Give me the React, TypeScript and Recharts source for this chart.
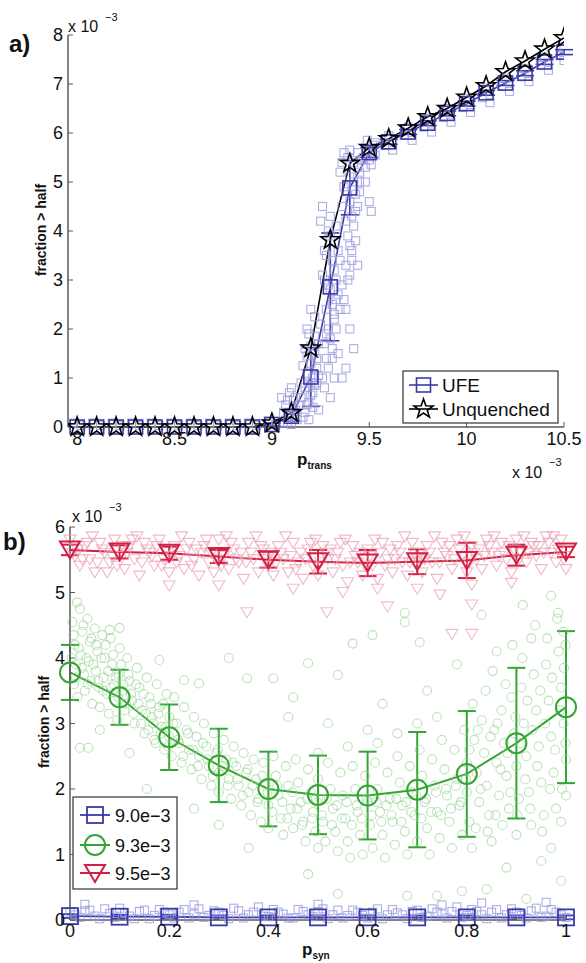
import React from 'react';
import { ComposedChart, Line, Scatter, XAxis, YAxis, ErrorBar } from 'recharts';

const FONT = '"Liberation Sans", Arial, Helvetica, sans-serif';
const AXIS = '#5a5a5a';

// ---------- panel a: fraction > half vs p_trans (x 10^-3) ----------
const pTrans = [8.0, 8.1, 8.2, 8.3, 8.4, 8.5, 8.6, 8.7, 8.8, 8.9, 9.0, 9.1, 9.2, 9.3, 9.4, 9.5, 9.6, 9.7, 9.8, 9.9, 10.0, 10.1, 10.2, 10.3, 10.4, 10.5];
const ufeMean = [0, 0, 0, 0, 0, 0, 0, 0, 0, 0, 0.05, 0.22, 1.02, 2.86, 4.88, 5.6, 5.82, 6.02, 6.2, 6.4, 6.6, 6.82, 7.02, 7.22, 7.45, 7.65];
const ufeErr = [0, 0, 0, 0, 0, 0, 0, 0, 0, 0, 0.03, 0.1, 0.6, 1.1, 0.55, 0.1, 0.05, 0.05, 0.05, 0.05, 0.05, 0.05, 0.05, 0.05, 0.05, 0.05];
const unquenched = [0, 0, 0, 0, 0, 0, 0, 0, 0, 0, 0.08, 0.29, 1.61, 3.82, 5.38, 5.7, 5.88, 6.1, 6.33, 6.5, 6.73, 6.96, 7.25, 7.47, 7.71, 7.94];
const ufeRuns: [number, number][] = [
  [7.98, 0.08], [8.02, 0.03], [8.08, 0.08], [8.12, 0.03], [8.18, 0.08], [8.22, 0.03], [8.28, 0.08], [8.32, 0.03],
  [8.38, 0.08], [8.42, 0.03], [8.48, 0.08], [8.52, 0.03], [8.58, 0.08], [8.62, 0.03], [8.68, 0.08], [8.72, 0.03],
  [8.78, 0.08], [8.82, 0.03], [8.88, 0.08], [8.92, 0.03], [8.98, 0.12], [9.02, 0.05],
  [9.08, 0.1], [9.1, 0.2], [9.12, 0.35], [9.07, 0.45], [9.11, 0.55], [9.09, 0.7], [9.13, 0.15], [9.06, 0.3], [9.1, 0.8], [9.05, 0.6],
  [9.09, 0.25], [9.11, 0.4], [9.08, 0.55], [9.12, 0.6], [9.1, 0.05],
  [9.17, 0.3], [9.19, 0.5], [9.21, 0.7], [9.23, 0.9], [9.18, 1.1], [9.2, 1.3], [9.22, 1.5], [9.24, 1.7], [9.19, 1.9],
  [9.21, 0.4], [9.23, 1.2], [9.17, 0.8], [9.15, 0.6], [9.25, 2.1], [9.2, 2.4],
  [9.16, 0.2], [9.18, 0.45], [9.2, 0.65], [9.22, 0.85], [9.24, 1.05], [9.16, 1.25], [9.18, 1.45], [9.2, 1.65], [9.22, 1.85],
  [9.24, 0.35], [9.19, 0.15], [9.21, 1.0], [9.23, 1.4], [9.17, 1.6], [9.2, 0.9], [9.18, 2.0], [9.22, 2.25], [9.15, 0.9], [9.14, 0.45],
  [9.27, 0.8], [9.29, 1.2], [9.31, 1.6], [9.33, 2.0], [9.28, 2.4], [9.3, 2.8], [9.32, 3.2], [9.34, 3.6], [9.29, 4.0],
  [9.31, 1.4], [9.33, 2.6], [9.27, 3.0], [9.35, 3.4], [9.3, 4.3], [9.26, 4.5], [9.28, 1.9], [9.32, 2.2], [9.25, 4.2],
  [9.26, 1.0], [9.28, 1.4], [9.3, 1.8], [9.32, 2.3], [9.34, 2.7], [9.26, 3.1], [9.28, 3.5], [9.3, 3.9], [9.32, 1.0],
  [9.34, 1.5], [9.29, 2.0], [9.31, 2.5], [9.33, 3.0], [9.27, 3.6], [9.31, 3.4], [9.29, 2.9], [9.33, 4.1], [9.3, 0.6],
  [9.35, 2.4], [9.27, 1.7],
  [9.37, 2.6], [9.39, 3.0], [9.41, 3.4], [9.43, 3.8], [9.38, 4.2], [9.4, 4.6], [9.42, 5.0], [9.44, 5.3], [9.39, 5.5],
  [9.41, 3.6], [9.43, 4.4], [9.37, 4.9], [9.45, 5.2], [9.4, 2.0], [9.42, 1.6], [9.38, 1.2], [9.36, 1.0], [9.4, 5.65],
  [9.45, 4.8], [9.36, 5.4],
  [9.36, 2.9], [9.38, 3.3], [9.4, 3.7], [9.42, 4.1], [9.44, 4.5], [9.36, 4.5], [9.38, 4.8], [9.4, 5.1], [9.42, 5.4],
  [9.44, 5.6], [9.37, 5.6], [9.39, 3.9], [9.41, 4.3], [9.43, 4.75], [9.45, 5.0], [9.38, 2.4], [9.44, 3.3], [9.46, 5.45],
  [9.35, 5.2], [9.4, 3.1],
  [9.48, 5.3], [9.5, 5.45], [9.52, 5.75], [9.49, 5.85], [9.51, 4.4], [9.5, 4.6], [9.53, 5.55],
  [9.47, 5.5], [9.49, 5.65], [9.51, 5.35], [9.53, 5.8], [9.48, 5.0],
  [9.58, 5.75], [9.62, 5.65], [9.6, 5.95], [9.68, 5.95], [9.72, 5.85], [9.7, 6.12], [9.78, 6.12], [9.82, 6.02], [9.8, 6.3],
  [9.88, 6.32], [9.92, 6.22], [9.9, 6.5], [9.98, 6.52], [10.02, 6.42], [10.0, 6.7], [10.08, 6.72], [10.12, 6.62], [10.1, 6.92],
  [10.18, 6.95], [10.22, 6.85], [10.2, 7.12], [10.28, 7.15], [10.32, 7.05], [10.3, 7.32], [10.38, 7.38], [10.42, 7.28],
  [10.4, 7.55], [10.48, 7.58], [10.5, 7.48], [10.5, 7.72],
];
const pTransTicks = [8, 8.5, 9, 9.5, 10, 10.5];
const fracTicksA = [0, 1, 2, 3, 4, 5, 6, 7, 8];

// ---------- panel b: fraction > half vs p_syn ----------
const pSyn = [0, 0.1, 0.2, 0.3, 0.4, 0.5, 0.6, 0.7, 0.8, 0.9, 1.0];
const mean90 = [0.06, 0.05, 0.05, 0.04, 0.04, 0.04, 0.04, 0.04, 0.04, 0.04, 0.04];
const err90 = [0.03, 0.03, 0.03, 0.03, 0.03, 0.03, 0.03, 0.03, 0.03, 0.03, 0.03];
const mean93 = [3.78, 3.4, 2.79, 2.36, 2.0, 1.91, 1.9, 1.99, 2.23, 2.7, 3.25];
const err93 = [0.42, 0.42, 0.5, 0.56, 0.57, 0.6, 0.67, 0.88, 0.96, 1.15, 1.16];
const mean95 = [5.65, 5.62, 5.6, 5.55, 5.5, 5.47, 5.45, 5.47, 5.49, 5.57, 5.62];
const err95 = [0.08, 0.1, 0.1, 0.1, 0.12, 0.18, 0.2, 0.19, 0.27, 0.16, 0.08];
const runs90: [number, number][] = [
  [0, 0.12], [0.02, 0.04], [0.04, 0.15], [0.06, 0.02], [0.08, 0.1], [0.1, 0.18], [0.12, 0.06], [0.14, 0.13], [0.16, 0.02],
  [0.18, 0.16], [0.2, 0.08], [0.22, 0.12], [0.24, 0.03], [0.26, 0.17], [0.28, 0.07], [0.3, 0.12], [0.32, 0.02], [0.34, 0.14],
  [0.36, 0.08], [0.38, 0.2], [0.4, 0.05], [0.42, 0.12], [0.44, 0.03], [0.46, 0.16], [0.48, 0.08], [0.5, 0.13], [0.52, 0.02],
  [0.54, 0.15], [0.56, 0.07], [0.58, 0.12], [0.6, 0.03], [0.62, 0.17], [0.64, 0.08], [0.66, 0.11], [0.68, 0.02], [0.7, 0.15],
  [0.72, 0.06], [0.74, 0.12], [0.76, 0.03], [0.78, 0.2], [0.8, 0.07], [0.82, 0.13], [0.84, 0.02], [0.86, 0.16], [0.88, 0.08],
  [0.9, 0.12], [0.92, 0.03], [0.94, 0.18], [0.96, 0.06], [0.98, 0.12], [1.0, 0.04],
  [0.01, 0.08], [0.03, 0.14], [0.05, 0.06], [0.07, 0.17], [0.09, 0.04], [0.11, 0.11], [0.13, 0.02], [0.15, 0.15], [0.17, 0.07],
  [0.19, 0.12], [0.21, 0.03], [0.23, 0.16], [0.25, 0.09], [0.27, 0.04], [0.29, 0.14], [0.31, 0.07], [0.33, 0.18], [0.35, 0.03],
  [0.37, 0.12], [0.39, 0.06], [0.41, 0.16], [0.43, 0.09], [0.45, 0.03], [0.47, 0.13], [0.49, 0.05], [0.51, 0.17], [0.53, 0.08],
  [0.55, 0.03], [0.57, 0.15], [0.59, 0.07], [0.61, 0.12], [0.63, 0.02], [0.65, 0.16], [0.67, 0.08], [0.69, 0.13], [0.71, 0.04],
  [0.73, 0.17], [0.75, 0.09], [0.77, 0.13], [0.79, 0.04], [0.81, 0.16], [0.83, 0.08], [0.85, 0.12], [0.87, 0.03], [0.89, 0.17],
  [0.91, 0.07], [0.93, 0.14], [0.95, 0.04], [0.97, 0.16], [0.99, 0.08],
  [0.03, 0.24], [0.25, 0.23], [0.5, 0.24], [0.75, 0.23], [0.83, 0.26], [0.96, 0.27],
];
const runs93: [number, number][] = [
  [0.005, 4.55], [0.01, 4.2], [0.012, 3.9], [0.008, 3.6], [0.015, 3.4], [0.02, 4.75], [0.025, 4.4], [0.022, 4.05], [0.028, 3.75],
  [0.03, 3.5], [0.035, 4.6], [0.04, 4.25], [0.038, 3.95], [0.042, 3.65], [0.045, 3.3], [0.05, 4.45], [0.055, 4.1], [0.052, 3.8],
  [0.058, 3.55], [0.06, 3.25], [0.065, 4.35], [0.07, 4.0], [0.068, 3.7], [0.075, 3.45], [0.078, 3.15], [0.082, 4.3], [0.085, 3.9],
  [0.088, 3.6], [0.09, 3.35], [0.095, 3.05], [0.1, 4.15], [0.098, 3.75],
  [0.105, 3.5], [0.11, 3.2], [0.115, 4.0], [0.12, 3.65], [0.125, 3.35], [0.13, 3.0], [0.135, 3.85], [0.14, 3.55], [0.145, 3.2],
  [0.15, 2.85], [0.155, 3.7], [0.16, 3.4], [0.165, 3.1], [0.17, 2.75], [0.175, 3.6], [0.18, 3.25], [0.185, 2.95], [0.19, 2.6],
  [0.195, 3.45], [0.2, 3.1], [0.2, 2.8], [0.205, 2.5],
  [0.21, 3.4], [0.215, 3.0], [0.22, 2.7], [0.225, 2.4], [0.23, 3.25], [0.235, 2.9], [0.24, 2.6], [0.245, 2.3], [0.25, 3.1],
  [0.255, 2.8], [0.26, 2.5], [0.265, 2.15], [0.27, 3.0], [0.275, 2.65], [0.28, 2.35], [0.285, 2.05], [0.29, 2.85], [0.295, 2.55],
  [0.3, 2.25], [0.3, 1.95],
  [0.31, 2.75], [0.315, 2.45], [0.32, 2.15], [0.325, 1.85], [0.33, 2.65], [0.335, 2.35], [0.34, 2.05], [0.345, 1.75], [0.35, 2.55],
  [0.355, 2.25], [0.36, 1.95], [0.365, 1.6], [0.37, 2.45], [0.375, 2.15], [0.38, 1.85], [0.385, 1.5], [0.39, 2.4], [0.395, 2.05],
  [0.4, 1.75], [0.4, 1.4],
  [0.41, 2.5], [0.415, 2.2], [0.42, 1.9], [0.425, 1.55], [0.43, 1.3], [0.435, 2.35], [0.44, 2.05], [0.445, 1.7], [0.45, 1.4],
  [0.455, 2.45], [0.46, 2.1], [0.465, 1.8], [0.47, 1.5], [0.475, 1.2], [0.48, 2.3], [0.485, 1.95], [0.49, 1.65], [0.495, 1.35],
  [0.5, 1.1], [0.5, 2.15],
  [0.505, 1.85], [0.51, 1.5], [0.515, 1.2], [0.52, 2.4], [0.525, 2.0], [0.53, 1.7], [0.535, 1.35], [0.54, 1.05], [0.545, 2.25],
  [0.55, 1.9], [0.555, 1.55], [0.56, 1.2], [0.565, 0.95], [0.57, 2.35], [0.575, 2.0], [0.58, 1.65], [0.585, 1.3], [0.59, 1.0],
  [0.595, 2.2], [0.6, 1.8],
  [0.605, 1.45], [0.61, 1.1], [0.615, 2.4], [0.62, 2.0], [0.625, 1.65], [0.63, 1.3], [0.635, 0.95], [0.64, 2.25], [0.645, 1.85],
  [0.65, 1.5], [0.655, 1.15], [0.66, 2.5], [0.665, 2.1], [0.67, 1.75], [0.675, 1.35], [0.68, 1.0], [0.685, 2.35], [0.69, 1.95],
  [0.695, 1.6], [0.7, 1.2],
  [0.705, 2.6], [0.71, 2.2], [0.715, 1.8], [0.72, 1.4], [0.725, 1.0], [0.73, 2.45], [0.735, 2.05], [0.74, 1.65], [0.745, 1.25],
  [0.75, 2.75], [0.755, 2.3], [0.76, 1.9], [0.765, 1.5], [0.77, 1.1], [0.775, 2.6], [0.78, 2.15], [0.785, 1.75], [0.79, 1.3],
  [0.795, 2.9], [0.8, 2.4], [0.8, 1.95],
  [0.805, 1.5], [0.81, 1.1], [0.815, 2.75], [0.82, 2.25], [0.825, 1.8], [0.83, 3.05], [0.835, 2.55], [0.84, 2.05], [0.845, 1.6],
  [0.85, 1.2], [0.855, 2.9], [0.86, 2.4], [0.865, 1.9], [0.87, 3.2], [0.875, 2.7], [0.88, 2.2], [0.885, 1.7], [0.89, 3.4],
  [0.895, 2.85], [0.9, 2.35], [0.9, 1.3],
  [0.905, 1.85], [0.91, 3.55], [0.915, 3.0], [0.92, 2.5], [0.925, 1.95], [0.93, 1.45], [0.935, 3.75], [0.94, 3.2], [0.945, 2.65],
  [0.95, 2.1], [0.955, 1.6], [0.96, 3.9], [0.965, 3.35], [0.97, 2.8], [0.975, 2.25], [0.98, 1.7], [0.985, 4.1], [0.99, 3.55],
  [0.995, 3.0], [1.0, 2.45], [1.0, 1.9], [0.995, 4.4], [0.99, 1.5],
  [0.003, 4.0], [0.007, 4.35], [0.012, 3.7], [0.018, 4.15], [0.024, 3.85], [0.027, 4.5], [0.033, 4.0], [0.036, 3.6], [0.043, 4.3],
  [0.047, 3.9], [0.053, 4.2], [0.057, 3.65], [0.063, 4.0], [0.067, 3.5], [0.072, 4.2], [0.077, 3.8], [0.083, 3.55], [0.087, 4.05],
  [0.093, 3.7], [0.097, 3.4], [0.103, 3.9], [0.108, 3.6], [0.113, 3.3], [0.118, 3.75], [0.123, 3.45], [0.128, 3.15], [0.133, 3.6],
  [0.138, 3.3], [0.143, 3.0], [0.148, 3.45], [0.153, 3.15], [0.158, 2.9], [0.163, 3.3], [0.168, 3.0], [0.173, 2.7], [0.178, 3.15],
  [0.183, 2.85], [0.188, 3.3], [0.193, 2.95], [0.198, 2.65], [0.208, 3.0], [0.218, 2.75], [0.228, 2.5], [0.238, 2.85], [0.248, 2.6],
  [0.258, 2.35], [0.268, 2.7], [0.278, 2.45], [0.288, 2.2], [0.298, 2.6], [0.308, 2.35], [0.318, 2.05], [0.328, 2.4], [0.338, 2.15],
  [0.348, 1.9], [0.358, 2.3], [0.368, 2.05], [0.378, 1.8], [0.388, 2.2], [0.398, 1.95], [0.408, 1.65], [0.418, 2.05], [0.428, 1.8],
  [0.438, 1.55], [0.448, 1.95], [0.458, 1.7], [0.468, 1.45], [0.478, 1.85], [0.488, 1.55], [0.498, 1.8], [0.508, 1.6], [0.518, 1.85],
  [0.528, 1.45], [0.538, 1.75], [0.548, 1.55], [0.558, 1.8], [0.568, 1.45], [0.578, 1.75], [0.588, 1.55], [0.598, 1.85], [0.608, 1.6],
  [0.618, 1.8], [0.628, 1.5], [0.638, 1.75], [0.648, 1.6], [0.658, 1.85], [0.668, 1.5], [0.678, 1.8], [0.688, 1.65], [0.698, 1.9],
  [0.708, 1.55], [0.718, 1.85], [0.728, 1.65], [0.738, 1.95], [0.748, 1.6], [0.758, 2.0], [0.768, 1.7], [0.778, 2.05], [0.788, 1.8],
  [0.798, 2.15],
  [0.805, 2.6], [0.812, 3.3], [0.818, 1.4], [0.822, 2.9], [0.828, 2.0], [0.838, 3.5], [0.842, 1.35], [0.848, 2.8], [0.852, 3.8],
  [0.858, 1.6], [0.862, 3.0], [0.868, 2.3], [0.872, 1.45], [0.878, 3.6], [0.882, 2.55], [0.888, 1.95], [0.892, 4.2], [0.898, 3.1],
  [0.902, 1.6], [0.908, 2.7], [0.912, 4.0], [0.918, 2.15], [0.922, 3.35], [0.928, 1.7], [0.932, 2.9], [0.938, 4.5], [0.942, 2.35],
  [0.948, 3.5], [0.952, 1.35], [0.958, 3.0], [0.962, 4.3], [0.968, 2.0], [0.972, 3.7], [0.978, 2.6], [0.982, 4.6], [0.988, 3.2],
  [0.992, 2.0], [0.996, 3.85], [0.999, 2.7], [0.999, 4.2], [0.62, 2.7], [0.66, 2.85], [0.7, 3.0], [0.56, 2.65], [0.5, 2.55],
  [0.74, 3.1],
  [0.014, 4.85], [0.08, 4.43], [0.1, 4.46], [0.18, 3.97], [0.23, 3.66], [0.26, 3.61], [0.32, 4.0], [0.357, 3.69], [0.41, 3.69],
  [0.45, 3.4], [0.02, 2.63], [0.037, 2.63], [0.155, 2.0], [0.48, 3.92], [0.54, 3.74], [0.57, 4.22], [0.61, 4.35], [0.675, 4.69],
  [0.675, 4.55], [0.705, 4.24], [0.83, 4.66], [0.913, 4.81], [0.984, 4.69], [0.54, 0.4], [0.68, 0.37], [0.74, 0.37], [0.79, 0.44],
  [0.84, 0.47], [0.92, 0.32], [0.99, 0.6], [0.48, 0.7], [0.36, 1.1], [0.3, 1.45], [0.25, 1.7], [0.95, 0.9], [0.88, 0.8],
  [0.63, 3.3], [0.72, 3.5], [0.78, 3.9], [0.86, 4.1], [0.97, 4.95], [0.52, 3.0], [0.44, 3.1], [0.6, 2.9], [0.12, 2.55],
  [0.06, 2.9], [0.97, 1.1], [0.93, 4.3],
];
const runs95: [number, number][] = [
  [0.0, 5.8], [0.01, 5.55], [0.02, 5.4], [0.03, 5.7], [0.04, 5.5], [0.05, 5.3], [0.06, 5.75], [0.07, 5.6], [0.08, 5.45], [0.09, 5.8],
  [0.1, 5.55], [0.11, 5.35], [0.12, 5.7], [0.13, 5.5], [0.14, 5.25], [0.15, 5.75], [0.16, 5.6], [0.17, 5.4], [0.18, 5.8], [0.19, 5.5],
  [0.2, 5.3], [0.21, 5.7], [0.22, 5.55], [0.23, 5.35], [0.24, 5.75], [0.25, 5.5], [0.26, 5.25], [0.27, 5.7], [0.28, 5.45], [0.29, 5.3],
  [0.3, 5.8], [0.31, 5.55], [0.32, 5.35], [0.33, 5.65], [0.34, 5.45], [0.35, 5.2], [0.36, 5.75], [0.37, 5.5], [0.38, 5.3], [0.39, 5.65],
  [0.4, 5.4], [0.41, 5.25], [0.42, 5.7], [0.43, 5.5], [0.44, 5.3], [0.45, 5.75], [0.46, 5.45], [0.47, 5.2], [0.48, 5.65], [0.49, 5.4],
  [0.5, 5.25], [0.51, 5.7], [0.52, 5.5], [0.53, 5.3], [0.54, 5.6], [0.55, 5.4], [0.56, 5.15], [0.57, 5.7], [0.58, 5.45], [0.59, 5.25],
  [0.6, 5.65], [0.61, 5.4], [0.62, 5.2], [0.63, 5.75], [0.64, 5.5], [0.65, 5.3], [0.66, 5.7], [0.67, 5.45], [0.68, 5.25], [0.69, 5.75],
  [0.7, 5.5], [0.71, 5.3], [0.72, 5.7], [0.73, 5.45], [0.74, 5.2], [0.75, 5.75], [0.76, 5.55], [0.77, 5.35], [0.78, 5.8], [0.79, 5.55],
  [0.8, 5.3], [0.81, 5.7], [0.82, 5.5], [0.83, 5.35], [0.84, 5.8], [0.85, 5.6], [0.86, 5.4], [0.87, 5.75], [0.88, 5.5], [0.89, 5.3],
  [0.9, 5.8], [0.91, 5.6], [0.92, 5.45], [0.93, 5.75], [0.94, 5.55], [0.95, 5.35], [0.96, 5.85], [0.97, 5.6], [0.98, 5.45], [0.99, 5.8],
  [1.0, 5.55], [1.0, 5.35],
  [0.015, 5.65], [0.045, 5.85], [0.075, 5.3], [0.105, 5.7], [0.135, 5.85], [0.165, 5.55], [0.195, 5.65], [0.225, 5.85], [0.255, 5.65],
  [0.285, 5.6], [0.315, 5.85], [0.345, 5.6], [0.375, 5.85], [0.405, 5.6], [0.435, 5.85], [0.465, 5.6], [0.495, 5.8], [0.525, 5.65],
  [0.555, 5.8], [0.585, 5.6], [0.615, 5.8], [0.645, 5.65], [0.675, 5.85], [0.705, 5.6], [0.735, 5.85], [0.765, 5.7], [0.795, 5.85],
  [0.825, 5.65], [0.855, 5.85], [0.885, 5.7], [0.915, 5.85], [0.945, 5.7], [0.975, 5.85],
  [0.005, 5.6], [0.025, 5.5], [0.035, 5.75], [0.055, 5.45], [0.065, 5.65], [0.085, 5.55], [0.095, 5.4], [0.115, 5.6], [0.125, 5.8],
  [0.145, 5.45], [0.155, 5.65], [0.175, 5.7], [0.185, 5.4], [0.205, 5.55], [0.215, 5.45], [0.235, 5.65], [0.245, 5.4], [0.265, 5.6],
  [0.275, 5.8], [0.295, 5.5], [0.305, 5.4], [0.325, 5.75], [0.335, 5.5], [0.355, 5.45], [0.365, 5.6], [0.385, 5.7], [0.395, 5.5],
  [0.415, 5.45], [0.425, 5.6], [0.445, 5.55], [0.455, 5.35], [0.475, 5.5], [0.485, 5.75], [0.505, 5.45], [0.515, 5.6], [0.535, 5.5],
  [0.545, 5.75], [0.565, 5.45], [0.575, 5.55], [0.595, 5.4], [0.605, 5.55], [0.625, 5.6], [0.635, 5.4], [0.655, 5.5], [0.665, 5.6],
  [0.685, 5.45], [0.695, 5.6], [0.715, 5.5], [0.725, 5.6], [0.745, 5.45], [0.755, 5.6], [0.775, 5.5], [0.785, 5.65], [0.805, 5.45],
  [0.815, 5.6], [0.835, 5.55], [0.845, 5.7], [0.865, 5.55], [0.875, 5.6], [0.895, 5.65], [0.905, 5.5], [0.925, 5.6], [0.935, 5.7],
  [0.955, 5.6], [0.965, 5.75], [0.985, 5.65], [0.995, 5.5],
  [0.357, 4.69], [0.518, 4.69], [0.64, 4.78], [0.81, 4.81], [0.77, 4.36], [0.81, 4.36], [0.746, 4.96], [0.81, 5.11], [0.89, 5.14],
  [0.62, 5.05], [0.45, 5.05], [0.3, 5.1], [0.2, 5.1], [0.55, 5.0], [0.7, 5.05],
];
const pSynTicks = [0, 0.2, 0.4, 0.6, 0.8, 1];
const fracTicksB = [0, 1, 2, 3, 4, 5, 6];

// colours
const BLUE = '#3a3aa8';
const BLUE_LIGHT = '#9a9ae0';
const GREEN = '#34a534';
const GREEN_LIGHT = '#8fd08a';
const RED = '#d21f43';
const RED_LIGHT = '#ea9db2';

// ---------- tables built from the arrays ----------
const toPts = (rows: [number, number][]) => rows.map(([x, y]) => ({ x, y }));
const seriesA = (ys: number[], es?: number[]) => pTrans.map((x, i) => ({ x, y: ys[i], e: es ? es[i] : 0 }));
const seriesB = (ys: number[], es: number[]) => pSyn.map((x, i) => ({ x, y: ys[i], e: es[i] }));

// ---------- marker shapes ----------
const starPath = (cx: number, cy: number, R: number, r: number) => {
  let d = '';
  for (let i = 0; i < 10; i++) {
    const a = -Math.PI / 2 + (i * Math.PI) / 5;
    const rad = i % 2 === 0 ? R : r;
    d += (i === 0 ? 'M' : 'L') + (cx + rad * Math.cos(a)).toFixed(2) + ',' + (cy + rad * Math.sin(a)).toFixed(2);
  }
  return d + 'Z';
};

const squareShape = (size: number, stroke: string, sw: number, op = 1) => (p: any) => (
  <rect key={p.index} x={p.cx - size / 2} y={p.cy - size / 2} width={size} height={size}
    fill="none" stroke={stroke} strokeWidth={sw} strokeOpacity={op} />
);
const circleShape = (r: number, stroke: string, sw: number, op = 1) => (p: any) => (
  <circle key={p.index} cx={p.cx} cy={p.cy} r={r} fill="none" stroke={stroke} strokeWidth={sw} strokeOpacity={op} />
);
const triShape = (w: number, h: number, stroke: string, sw: number, op = 1) => (p: any) => (
  <polygon key={p.index}
    points={`${p.cx - w / 2},${p.cy - h / 2} ${p.cx + w / 2},${p.cy - h / 2} ${p.cx},${p.cy + h / 2}`}
    fill="none" stroke={stroke} strokeWidth={sw} strokeOpacity={op} strokeLinejoin="miter" />
);
const starShape = (R: number, r: number, stroke: string, sw: number) => (p: any) => (
  <path key={p.index} d={starPath(p.cx, p.cy, R, r)} fill="none" stroke={stroke} strokeWidth={sw} strokeLinejoin="miter" />
);

const tickStyle = { fontSize: 18, fill: '#111', fontFamily: FONT };
const blank = () => '';

function PanelA() {
  return (
    <ComposedChart width={586} height={480} margin={{ top: 35, right: 22, left: 40, bottom: 0 }}>
      <XAxis xAxisId="b" type="number" dataKey="x" domain={[7.953, 10.5]} ticks={pTransTicks} interval={0}
        allowDataOverflow height={53} tickSize={-5} tickMargin={10} tick={tickStyle}
        axisLine={{ stroke: AXIS, strokeWidth: 1.5 }} tickLine={{ stroke: AXIS }} />
      <XAxis xAxisId="t" orientation="top" type="number" dataKey="x" domain={[7.953, 10.5]} ticks={pTransTicks} interval={0}
        allowDataOverflow height={0} tickSize={-5} tickFormatter={blank}
        axisLine={{ stroke: AXIS, strokeWidth: 1.5 }} tickLine={{ stroke: AXIS }} />
      <YAxis yAxisId="l" type="number" dataKey="y" domain={[0, 8]} ticks={fracTicksA} interval={0}
        width={28} tickSize={-5} tickMargin={10} tick={tickStyle}
        axisLine={{ stroke: AXIS, strokeWidth: 1.5 }} tickLine={{ stroke: AXIS }} />
      <YAxis yAxisId="r" orientation="right" type="number" dataKey="y" domain={[0, 8]} ticks={fracTicksA} interval={0}
        width={0} tickSize={-5} tickFormatter={blank}
        axisLine={{ stroke: AXIS, strokeWidth: 1.5 }} tickLine={{ stroke: AXIS }} />

      <Scatter xAxisId="b" yAxisId="l" data={toPts(ufeRuns)} dataKey="y" isAnimationActive={false}
        shape={squareShape(8, BLUE_LIGHT, 1.1, 0.8)} legendType="none" />

      <Line xAxisId="b" yAxisId="l" data={seriesA(ufeMean, ufeErr)} dataKey="y" stroke={BLUE} strokeWidth={1.6}
        isAnimationActive={false} dot={squareShape(14, BLUE, 1.6)} activeDot={false} legendType="none">
        <ErrorBar dataKey="e" direction="y" width={9} stroke={BLUE} strokeWidth={1.6} />
      </Line>
      <Line xAxisId="b" yAxisId="l" data={seriesA(unquenched)} dataKey="y" stroke="#000" strokeWidth={1.6}
        isAnimationActive={false} dot={starShape(10, 4, '#000', 1.6)} activeDot={false} legendType="none" />
    </ComposedChart>
  );
}

function PanelB() {
  return (
    <ComposedChart width={586} height={483} margin={{ top: 47, right: 20, left: 40, bottom: 0 }}>
      <XAxis xAxisId="b" type="number" dataKey="x" domain={[0, 1]} ticks={pSynTicks} interval={0}
        height={43} tickSize={-5} tickMargin={9} tick={tickStyle}
        axisLine={{ stroke: AXIS, strokeWidth: 1.5 }} tickLine={{ stroke: AXIS }} />
      <XAxis xAxisId="t" orientation="top" type="number" dataKey="x" domain={[0, 1]} ticks={pSynTicks} interval={0}
        height={0} tickSize={-5} tickFormatter={blank}
        axisLine={{ stroke: AXIS, strokeWidth: 1.5 }} tickLine={{ stroke: AXIS }} />
      <YAxis yAxisId="l" type="number" dataKey="y" domain={[0, 6]} ticks={fracTicksB} interval={0}
        width={30} tickSize={-5} tickMargin={10} tick={tickStyle}
        axisLine={{ stroke: AXIS, strokeWidth: 1.5 }} tickLine={{ stroke: AXIS }} />
      <YAxis yAxisId="r" orientation="right" type="number" dataKey="y" domain={[0, 6]} ticks={fracTicksB} interval={0}
        width={0} tickSize={-5} tickFormatter={blank}
        axisLine={{ stroke: AXIS, strokeWidth: 1.5 }} tickLine={{ stroke: AXIS }} />

      <Scatter xAxisId="b" yAxisId="l" data={toPts(runs95)} dataKey="y" isAnimationActive={false}
        shape={triShape(12, 10, RED_LIGHT, 1.1, 0.7)} legendType="none" />
      <Scatter xAxisId="b" yAxisId="l" data={toPts(runs93)} dataKey="y" isAnimationActive={false}
        shape={circleShape(4.5, GREEN_LIGHT, 1.1, 0.6)} legendType="none" />
      <Scatter xAxisId="b" yAxisId="l" data={toPts(runs90)} dataKey="y" isAnimationActive={false}
        shape={squareShape(8, BLUE_LIGHT, 1.1, 0.8)} legendType="none" />

      <Line xAxisId="b" yAxisId="l" data={seriesB(mean90, err90)} dataKey="y" stroke={BLUE} strokeWidth={1.8}
        isAnimationActive={false} dot={squareShape(16, BLUE, 1.8)} activeDot={false} legendType="none">
        <ErrorBar dataKey="e" direction="y" width={8} stroke={BLUE} strokeWidth={1.8} />
      </Line>
      <Line xAxisId="b" yAxisId="l" data={seriesB(mean93, err93)} dataKey="y" stroke={GREEN} strokeWidth={2}
        isAnimationActive={false} dot={circleShape(10, GREEN, 2)} activeDot={false} legendType="none">
        <ErrorBar dataKey="e" direction="y" width={9} stroke={GREEN} strokeWidth={2} />
      </Line>
      <Line xAxisId="b" yAxisId="l" data={seriesB(mean95, err95)} dataKey="y" stroke={RED} strokeWidth={2}
        isAnimationActive={false} dot={triShape(20, 17, RED, 2)} activeDot={false} legendType="none">
        <ErrorBar dataKey="e" direction="y" width={9} stroke={RED} strokeWidth={2} />
      </Line>
    </ComposedChart>
  );
}

// text, legends and panel letters drawn over both panels
function Annotations() {
  const t = { fontFamily: FONT, fill: '#111' };
  return (
    <svg width={586} height={963} style={{ position: 'absolute', left: 0, top: 0, pointerEvents: 'none' }}>
      {/* panel a */}
      <text x={9} y={52} fontSize={24} fontWeight="bold" {...t}>a)</text>
      <text x={68} y={32} fontSize={16} {...t}>x 10</text>
      <text x={105} y={21} fontSize={11} {...t}>−3</text>
      <text transform="translate(46,230) rotate(-90)" textAnchor="middle" fontSize={14} fontWeight="bold" {...t}>fraction &gt; half</text>
      <text x={297} y={465} fontSize={17} fontWeight="bold" {...t}>p<tspan fontSize={10} dy={4}>trans</tspan></text>
      <text x={512} y={478} fontSize={16} {...t}>x 10</text>
      <text x={549} y={466} fontSize={11} {...t}>−3</text>

      <rect x={403} y={371} width={155} height={52} fill="#fff" stroke="#333" strokeWidth={1.2} />
      <line x1={409} x2={438} y1={385} y2={385} stroke={BLUE} strokeWidth={1.6} />
      <rect x={416.5} y={378} width={14} height={14} fill="none" stroke={BLUE} strokeWidth={1.6} />
      <text x={442} y={392} fontSize={19} {...t}>UFE</text>
      <line x1={409} x2={438} y1={409} y2={409} stroke="#000" strokeWidth={1.6} />
      <path d={starPath(423.5, 409, 10, 4)} fill="none" stroke="#000" strokeWidth={1.6} />
      <text x={442} y={416} fontSize={19} {...t}>Unquenched</text>

      {/* panel b */}
      <text x={3} y={550} fontSize={24} fontWeight="bold" {...t}>b)</text>
      <text x={72} y={522} fontSize={16} {...t}>x 10</text>
      <text x={109} y={511} fontSize={11} {...t}>−3</text>
      <text transform="translate(49,722) rotate(-90)" textAnchor="middle" fontSize={14} fontWeight="bold" {...t}>fraction &gt; half</text>
      <text x={302} y={955} fontSize={17} fontWeight="bold" {...t}>p<tspan fontSize={10} dy={4}>syn</tspan></text>

      <rect x={73} y={797} width={104} height={92} fill="#fff" stroke="#333" strokeWidth={1.2} />
      <line x1={80} x2={110} y1={815} y2={815} stroke={BLUE} strokeWidth={1.8} />
      <rect x={87} y={807} width={16} height={16} fill="none" stroke={BLUE} strokeWidth={1.8} />
      <text x={115} y={822} fontSize={18} {...t}>9.0e−3</text>
      <line x1={80} x2={110} y1={845} y2={845} stroke={GREEN} strokeWidth={2} />
      <circle cx={95} cy={845} r={10} fill="none" stroke={GREEN} strokeWidth={2} />
      <text x={115} y={852} fontSize={18} {...t}>9.3e−3</text>
      <line x1={80} x2={110} y1={873} y2={873} stroke={RED} strokeWidth={2} />
      <polygon points="85,865 105,865 95,882" fill="none" stroke={RED} strokeWidth={2} />
      <text x={115} y={880} fontSize={18} {...t}>9.5e−3</text>
    </svg>
  );
}

export default function App() {
  return (
    <div style={{ position: 'absolute', left: 0, top: 0, width: 586, height: 963, background: '#fff', overflow: 'hidden' }}>
      <div style={{ position: 'absolute', left: 0, top: 0 }}>
        <PanelA />
      </div>
      <div style={{ position: 'absolute', left: 0, top: 480 }}>
        <PanelB />
      </div>
      <Annotations />
    </div>
  );
}
